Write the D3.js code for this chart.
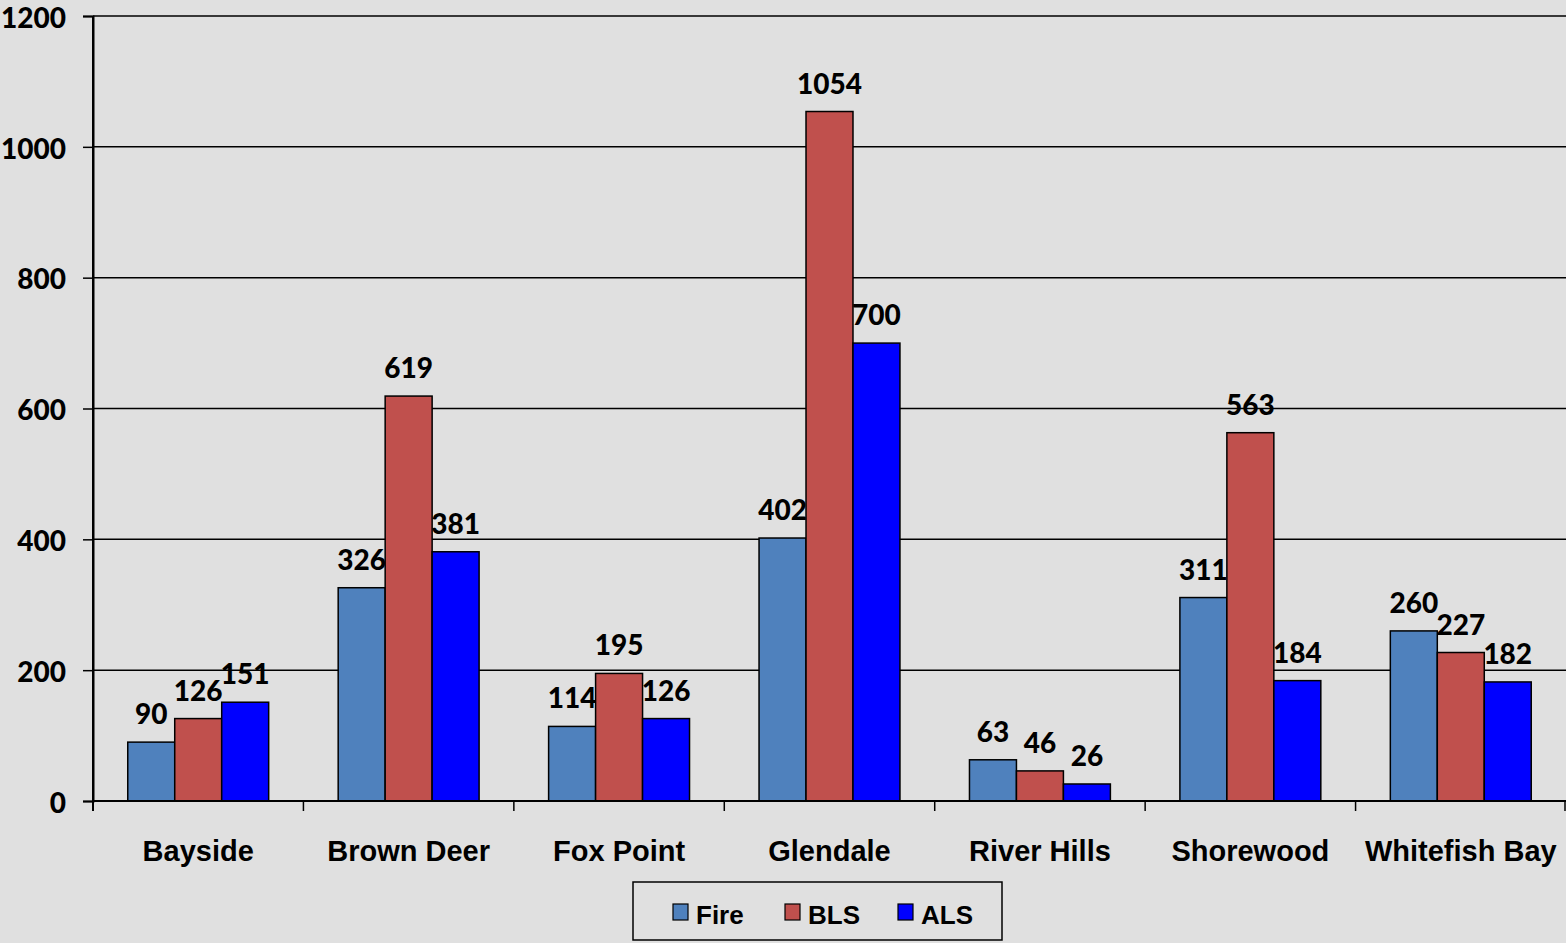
<!DOCTYPE html>
<html><head><meta charset="utf-8">
<script src="https://cdn.jsdelivr.net/npm/d3@7"></script>
<style>
html,body{margin:0;padding:0;background:#e0e0e0;}
svg{display:block;}
</style></head>
<body>
<script>
const categories = ["Bayside","Brown Deer","Fox Point","Glendale","River Hills","Shorewood","Whitefish Bay"];
const seriesNames = ["Fire","BLS","ALS"];
const fire = [90,326,114,402,63,311,260];
const bls = [126,619,195,1054,46,563,227];
const als = [151,381,126,700,26,184,182];
const colors = ["#4f81bd","#c0504d","#0000ff"];
const yTicks = [0,200,400,600,800,1000,1200];
const values = [fire, bls, als];

const W = 1566, H = 943;
const m = {left:93, right:0, top:16, bottom:142};
const svg = d3.select("body").append("svg").attr("width",W).attr("height",H);
svg.append("rect").attr("width",W).attr("height",H).attr("fill","#e0e0e0");

const x = d3.scaleBand().domain(categories).range([m.left, W - m.right]).paddingInner(0).paddingOuter(0);
const inner = d3.scaleBand().domain(seriesNames).range([0, x.bandwidth()]).paddingInner(0).paddingOuter(0.74);
const y = d3.scaleLinear().domain([0,1200]).range([H - m.bottom, m.top]);

const numFont = "Lato, 'Open Sans', sans-serif";

// gridlines
svg.append("g").selectAll("line").data(yTicks.filter(d=>d>0)).join("line")
  .attr("x1", m.left).attr("x2", W).attr("y1", d=>y(d)).attr("y2", d=>y(d))
  .attr("stroke","#000").attr("stroke-width",1.5);

// y axis
const ya = svg.append("g").attr("transform",`translate(${m.left},0)`)
  .call(d3.axisLeft(y).tickValues(yTicks).tickSize(10).tickPadding(17).tickFormat(d3.format("d")));
ya.select(".domain").attr("stroke","#000").attr("stroke-width",2);
ya.selectAll(".tick line").attr("stroke","#000").attr("stroke-width",1.5);
ya.selectAll(".tick text").attr("font-family",numFont).attr("font-weight","900").attr("font-size","28px").attr("fill","#000").attr("dy","0.4em");

// bars
const groups = svg.append("g").selectAll("g").data(categories).join("g")
  .attr("transform", d=>`translate(${x(d)},0)`);
groups.each(function(c, ci){
  const g = d3.select(this);
  seriesNames.forEach((s, si)=>{
    const v = values[si][ci];
    g.append("rect").attr("x", inner(s)).attr("y", y(v)).attr("width", inner.bandwidth()).attr("height", y(0)-y(v))
      .attr("fill", colors[si]).attr("stroke","#000").attr("stroke-width",1.5);
    g.append("text").attr("x", inner(s)+inner.bandwidth()/2).attr("y", y(v)-18)
      .attr("text-anchor","middle").attr("font-family",numFont).attr("font-weight","900").attr("font-size","28px")
      .attr("fill","#000").text(v);
  });
});

// x axis
const xa = svg.append("g").attr("transform",`translate(0,${y(0)})`)
  .call(d3.axisBottom(x).tickSize(0).tickPadding(39));
xa.select(".domain").remove();
svg.append("line").attr("x1",m.left).attr("x2",W).attr("y1",y(0)).attr("y2",y(0)).attr("stroke","#000").attr("stroke-width",2);
xa.selectAll(".tick text").attr("font-family","'Liberation Sans', Arial, sans-serif").attr("font-weight","bold").attr("font-size","29px").attr("fill","#000").attr("dy","0.71em");
// category boundary ticks
const bounds = categories.map(c=>x(c)).concat([x.range()[1]-1]);
svg.append("g").selectAll("line").data(bounds).join("line")
  .attr("x1",d=>d).attr("x2",d=>d).attr("y1",y(0)).attr("y2",y(0)+10).attr("stroke","#000").attr("stroke-width",1.5);
// y axis extend
svg.append("line").attr("x1",m.left).attr("x2",m.left).attr("y1",m.top).attr("y2",y(0)+10).attr("stroke","#000").attr("stroke-width",2);

// legend
const lg = svg.append("g").attr("transform","translate(633,882)");
lg.append("rect").attr("width",369).attr("height",58).attr("fill","#e0e0e0").attr("stroke","#000").attr("stroke-width",1.5);
const lx = [40, 152, 265];
seriesNames.forEach((s,i)=>{
  lg.append("rect").attr("x",lx[i]).attr("y",22).attr("width",15).attr("height",16).attr("fill",colors[i]).attr("stroke","#000").attr("stroke-width",1.2);
  lg.append("text").attr("x",lx[i]+23).attr("y",42).attr("font-family","'Liberation Sans', Arial, sans-serif").attr("font-weight","bold").attr("font-size","26px").attr("fill","#000").text(s);
});
</script>
</body></html>
